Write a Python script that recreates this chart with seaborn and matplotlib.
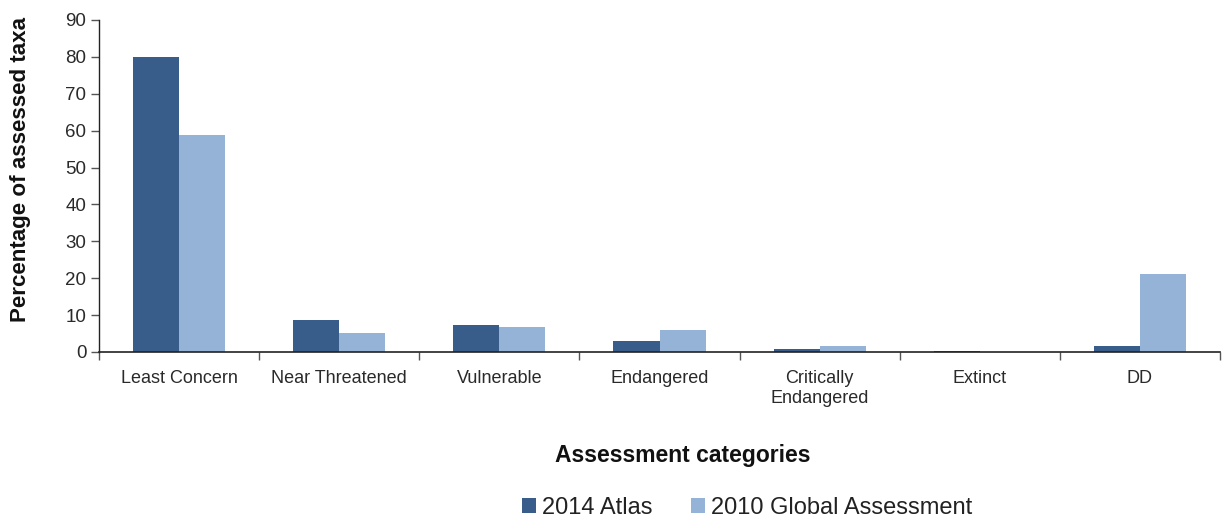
import matplotlib
matplotlib.use("Agg")
import matplotlib.pyplot as plt
import seaborn as sns
import pandas as pd
import numpy as np
from matplotlib.ticker import FixedLocator

categories = ["Least Concern", "Near Threatened", "Vulnerable", "Endangered",
              "Critically\nEndangered", "Extinct", "DD"]
atlas_2014 = [80.0, 8.7, 7.3, 3.0, 0.9, 0.3, 1.6]
global_2010 = [58.8, 5.1, 6.9, 6.0, 1.6, 0.0, 21.1]
series_names = ["2014 Atlas", "2010 Global Assessment"]
y_ticks = [0, 10, 20, 30, 40, 50, 60, 70, 80, 90]

df = pd.DataFrame({
    "category": categories * 2,
    "value": atlas_2014 + global_2010,
    "series": [series_names[0]] * len(categories) + [series_names[1]] * len(categories),
})

sns.set_theme(style="white")
plt.rcParams["font.family"] = ["Liberation Sans", "DejaVu Sans"]

fig = plt.figure(figsize=(12.23, 5.19), dpi=100)
ax = fig.add_axes([99 / 1223, 1 - 352 / 519, (1220 - 99) / 1223, (352 - 20) / 519])

palette = {series_names[0]: "#385d8a", series_names[1]: "#95b3d7"}
sns.barplot(data=df, x="category", y="value", hue="series", order=categories,
            hue_order=series_names, palette=palette, width=0.575, ax=ax,
            saturation=1, linewidth=0, legend=True)

ax.set_xlim(-0.5, len(categories) - 0.5)
ax.set_ylim(0, 90)
ax.set_yticks(y_ticks)
ax.tick_params(axis="y", which="major", direction="out", length=6, width=1, color="#555555",
               labelsize=13.5, pad=3, left=True)
ax.tick_params(axis="x", which="major", length=0, labelsize=13, pad=13)
ax.xaxis.set_minor_locator(FixedLocator(np.arange(-0.5, len(categories), 1.0)))
ax.tick_params(axis="x", which="minor", direction="out", length=6, width=1, color="#555555", bottom=True)
for lbl in ax.get_xticklabels() + ax.get_yticklabels():
    lbl.set_color("#2a2a2a")

for s in ["top", "right"]:
    ax.spines[s].set_visible(False)
ax.spines["left"].set_color("#222222")
ax.spines["bottom"].set_color("#222222")
ax.spines["left"].set_linewidth(1)
ax.spines["bottom"].set_linewidth(1.2)

ax.set_ylabel("Percentage of assessed taxa", fontsize=16.1, fontweight="bold", color="#111111")
ax.yaxis.set_label_coords(-(99 - 31) / (1220 - 99), (352 - 170) / (352 - 20))
ax.set_xlabel("Assessment categories", fontsize=16.5, fontweight="bold", color="#111111")
ax.xaxis.set_label_coords((683 - 99) / (1220 - 99), -(444 - 352) / (352 - 20))

handles, labels = ax.get_legend_handles_labels()
ax.get_legend().remove()
fig.legend(handles, labels, loc="center", bbox_to_anchor=(747 / 1223, 1 - 508 / 519), ncol=2,
           frameon=False, fontsize=17, handlelength=0.6, handleheight=0.6, handletextpad=0.25,
           columnspacing=1.65, labelcolor="#222222")

fig.savefig("out.png", dpi=100)
